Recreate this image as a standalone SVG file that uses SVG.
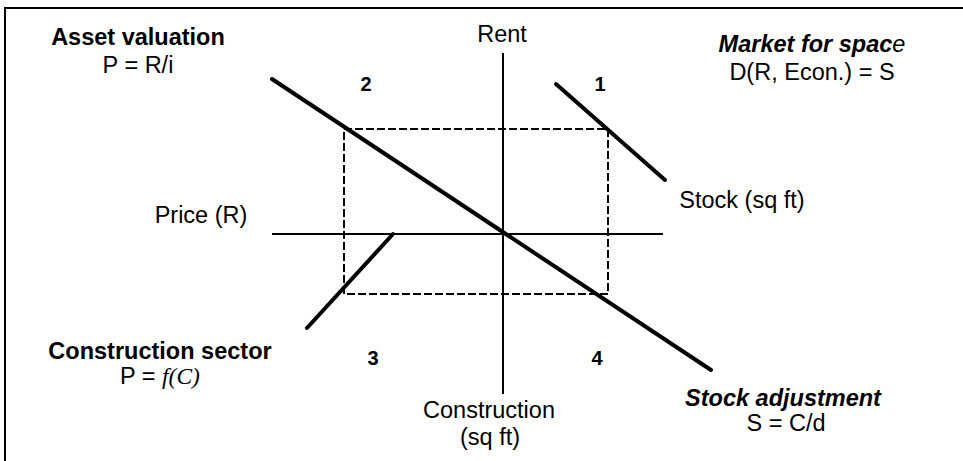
<svg xmlns="http://www.w3.org/2000/svg" width="963" height="461" viewBox="0 0 963 461">
<style>
text{font-family:"Liberation Sans",Arial,sans-serif;fill:#000;}
.t{font-size:23.5px;text-anchor:middle;}
.b{font-weight:bold;}
.bi{font-weight:bold;font-style:italic;}
.n{font-size:20px;font-weight:bold;text-anchor:middle;}
.axis{stroke:#000;stroke-width:2;fill:none;}
.curve{stroke:#000;stroke-width:4;fill:none;stroke-linecap:round;}
.dash{stroke:#000;stroke-width:2;fill:none;stroke-dasharray:8,3;}
</style>
<rect width="963" height="461" fill="#fff"/>
<g id="frame"><path d="M5,461 V8 H963" stroke="#000" stroke-width="2" fill="none"/></g>
<g id="connectors">
<line class="axis" x1="503" y1="53" x2="503" y2="394"/>
<line class="axis" x1="272" y1="234" x2="663" y2="234"/>
<rect class="dash" x="344" y="129" width="264" height="165"/>
<line class="curve" x1="272" y1="79" x2="711" y2="370"/>
<line class="curve" x1="556" y1="84" x2="665" y2="180"/>
<line class="curve" x1="393" y1="234" x2="307" y2="328"/>
</g>
<g id="asset"><text class="t b" x="138" y="45">Asset valuation</text><text class="t" x="138" y="73">P = R/i</text></g>
<g id="market"><text class="t bi" x="812" y="52">Market for spac<tspan font-weight="normal">e</tspan></text><text class="t" x="812" y="80">D(R, Econ.) = S</text></g>
<g id="construction"><text class="t b" x="160" y="359">Construction sector</text><text class="t" x="160" y="384">P = <tspan font-family="'Liberation Serif','Times New Roman',serif" font-style="italic">f(C)</tspan></text></g>
<g id="stockadj"><text class="t bi" x="783" y="406">Stock adjustment</text><text class="t" x="786" y="431">S = C/d</text></g>
<g id="rent"><text class="t" x="502" y="42" font-size="26">Rent</text></g>
<g id="price"><text class="t" x="201" y="223">Price (R)</text></g>
<g id="stock"><text class="t" x="742" y="208">Stock (sq ft)</text></g>
<g id="constr"><text class="t" x="489" y="418">Construction</text><text class="t" x="490" y="445">(sq ft)</text></g>
<g id="q1"><text class="n" x="600" y="91">1</text></g>
<g id="q2"><text class="n" x="366" y="91">2</text></g>
<g id="q3"><text class="n" x="373" y="365">3</text></g>
<g id="q4"><text class="n" x="597" y="365">4</text></g>
</svg>
